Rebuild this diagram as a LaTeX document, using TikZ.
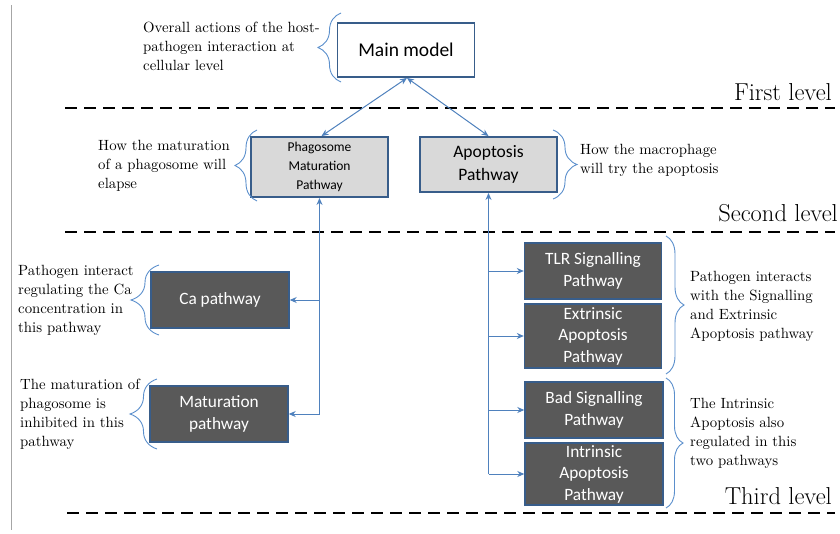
\documentclass[tikz,border=0pt]{standalone}
\usepackage{fontspec}
\newfontfamily\calibfont{Carlito}
\newfontfamily\notefont{lmroman10-regular.otf}
\usetikzlibrary{arrows.meta,decorations.pathreplacing,calc}
\definecolor{bordblue}{HTML}{385D8A}
\definecolor{linkblue}{HTML}{4F81BD}
\definecolor{bracecol}{HTML}{5B8FCC}
\definecolor{darkfill}{HTML}{595959}
\definecolor{lightfill}{HTML}{D9D9D9}
\begin{document}
\begin{tikzpicture}[x=1pt,y=-1pt,
  mainbox/.style={draw=bordblue,line width=1.9pt,fill=white,inner sep=0pt,font=\calibfont\fontsize{19.5}{23}\selectfont,align=center},
  graybox/.style={draw=bordblue,line width=1.9pt,fill=lightfill,inner sep=0pt,align=center},
  darkbox/.style={draw=bordblue,line width=1.4pt,fill=darkfill,text=white,inner sep=0pt,align=center,font=\calibfont\fontsize{17.3}{21.5}\selectfont},
  note/.style={inner sep=0pt,align=left,font=\notefont\fontsize{14.8}{19}\selectfont},
  levellabel/.style={inner sep=0pt,font=\fontsize{24.5}{28}\selectfont},
  levelline/.style={line width=1.6pt,dash pattern=on 12pt off 7pt},
  brc/.style={draw=bracecol,line width=0.9pt,decorate},
  link/.style={draw=linkblue,line width=1pt},
  tip/.style={-{Stealth[length=7pt,width=6pt]}},
]
\useasboundingbox (0,0) rectangle (840,533);
% left rule
\draw[gray!70,line width=1pt] (11,5) coordinate (ruletop) -- (11,530) coordinate (rulebot);

% level lines
\coordinate (l1a) at (65,108); \coordinate (l1b) at (835,108);
\coordinate (l2a) at (65,232); \coordinate (l2b) at (835,232);
\coordinate (l3a) at (67,513); \coordinate (l3b) at (835,513);
\draw[levelline] (l1a) -- (l1b);
\draw[levelline] (l2a) -- (l2b);
\draw[levelline] (l3a) -- (l3b);
\node[levellabel,anchor=east] (lab1) at (832,92) {First level};
\node[levellabel,anchor=east] (lab2) at (838,213) {Second level};
\node[levellabel,anchor=east] (lab3) at (832,496) {Third level};

% boxes
\node[mainbox,minimum width=137pt,minimum height=54pt] (main) at (406,50) {Main model};
\node[graybox,minimum width=137pt,minimum height=60pt,font=\calibfont\fontsize{13.5}{19}\selectfont] (phago) at (319.5,167) {Phagosome\\Maturation\\Pathway};
\node[graybox,minimum width=137pt,minimum height=55pt,font=\calibfont\fontsize{17.5}{23}\selectfont] (apop) at (488.5,164.5) {Apoptosis\\Pathway};
\node[darkbox,minimum width=138pt,minimum height=56pt] (ca) at (220,300) {Ca pathway};
\node[darkbox,minimum width=138pt,minimum height=56pt] (mat) at (219,414) {Maturation\\pathway};
\node[darkbox,minimum width=137pt,minimum height=56pt] (tlr) at (593,271) {TLR Signalling\\Pathway};
\node[darkbox,minimum width=137pt,minimum height=64pt] (ext) at (593,336) {Extrinsic\\Apoptosis\\Pathway};
\node[darkbox,minimum width=138pt,minimum height=56pt] (bad) at (594,410) {Bad Signalling\\Pathway};
\node[darkbox,minimum width=138pt,minimum height=62pt] (intr) at (594,474) {Intrinsic\\Apoptosis\\Pathway};

% connectors
\coordinate (mtip) at ($(main.south)+(1,0)$);
\draw[link,{Stealth[length=7pt,width=6pt]}-{Stealth[length=7pt,width=6pt]}] (mtip) -- ($(phago.north)+(2,0)$);
\draw[link,{Stealth[length=7pt,width=6pt]}-{Stealth[length=7pt,width=6pt]}] (mtip) -- ($(apop.north)+(0,0)$);

\coordinate (lbot) at (phago.south |- mat.east);
\coordinate (lca) at (phago.south |- ca.east);
\draw[link,tip] (lbot) -- (phago.south);
\draw[link,tip] (lca) -- (ca.east);
\draw[link,tip] (lbot) -- (mat.east);

\coordinate (rbot) at (apop.south |- intr.west);
\coordinate (rtlr) at (apop.south |- tlr.west);
\coordinate (rext) at (apop.south |- ext.west);
\coordinate (rbad) at (apop.south |- bad.west);
\draw[link,tip] (rbot) -- (apop.south);
\draw[link,tip] (rtlr) -- (tlr.west);
\draw[link,tip] (rext) -- (ext.west);
\draw[link,tip] (rbad) -- (bad.west);
\draw[link,tip] (rbot) -- (intr.west);

% braces
\coordinate (b1a) at (341,82); \coordinate (b1b) at (341,13);
\draw[brc,decoration={brace,amplitude=23pt}] (b1a) -- (b1b);
\coordinate (b2a) at (257,201); \coordinate (b2b) at (257,130);
\draw[brc,decoration={brace,amplitude=22pt}] (b2a) -- (b2b);
\coordinate (b3a) at (159,335); \coordinate (b3b) at (159,265);
\draw[brc,decoration={brace,amplitude=28pt}] (b3a) -- (b3b);
\coordinate (b4a) at (157,449); \coordinate (b4b) at (157,379);
\draw[brc,decoration={brace,amplitude=27pt}] (b4a) -- (b4b);
\coordinate (b5a) at (553,130); \coordinate (b5b) at (553,199);
\draw[brc,decoration={brace,amplitude=24pt}] (b5a) -- (b5b);
\coordinate (b6a) at (666,236); \coordinate (b6b) at (666,374);
\draw[brc,decoration={brace,amplitude=18pt}] (b6a) -- (b6b);
\coordinate (b7a) at (666,378); \coordinate (b7b) at (666,508);
\draw[brc,decoration={brace,amplitude=17pt}] (b7a) -- (b7b);

% notes
\node[note,anchor=west] (n1) at (143,46) {Overall actions of the host-\\pathogen interaction at\\cellular level};
\node[note,anchor=west] (n2) at (98,166) {How the maturation\\of a phagosome will\\elapse};
\node[note,anchor=west] (n3) at (18,300) {Pathogen interact\\regulating the Ca\\concentration in\\this pathway};
\node[note,anchor=west] (n4) at (20,414) {The maturation of\\phagosome is\\inhibited in this\\pathway};
\node[note,anchor=west] (n5) at (580,160) {How the macrophage\\will try the apoptosis};
\node[note,anchor=west] (n6) at (690,306) {Pathogen interacts\\with the Signalling\\and Extrinsic\\Apoptosis pathway};
\node[note,anchor=west] (n7) at (690,433) {The Intrinsic\\Apoptosis also\\regulated in this\\two pathways};
\end{tikzpicture}
\end{document}
